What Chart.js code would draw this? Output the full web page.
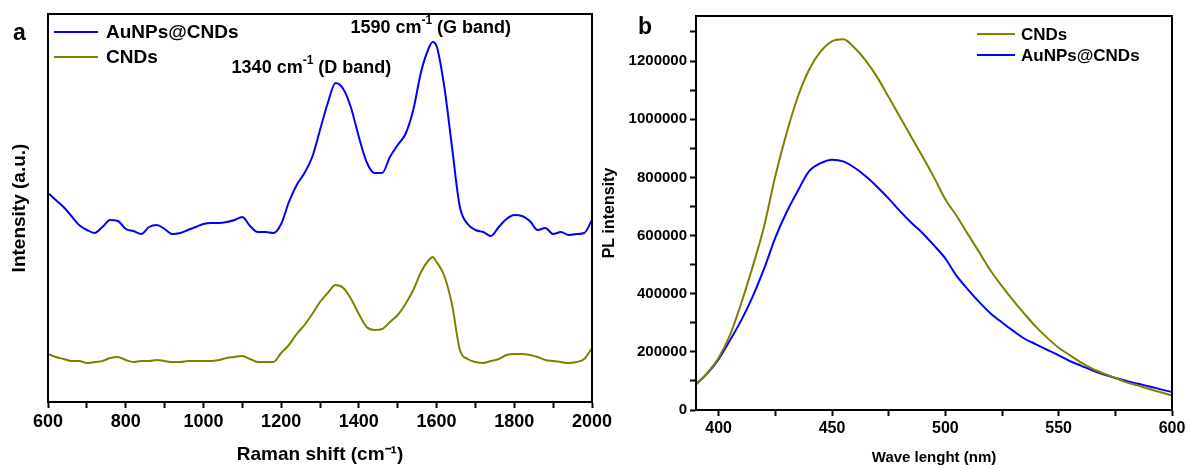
<!DOCTYPE html>
<html>
<head>
<meta charset="utf-8">
<script src="https://cdn.jsdelivr.net/npm/chart.js@4/dist/chart.umd.min.js"></script>
<style>
  html, body { margin: 0; padding: 0; background: #fff; }
  #wrap { position: relative; width: 1190px; height: 469px; overflow: hidden; }
  .panel { position: absolute; top: 0; height: 469px; }
  #pa { left: 0; width: 630px; }
  #pb { left: 600px; width: 590px; }
</style>
</head>
<body>
<div id="wrap">
  <div class="panel" id="pa"><canvas id="chartA" width="630" height="469"></canvas></div>
  <div class="panel" id="pb"><canvas id="chartB" width="590" height="469"></canvas></div>
</div>
<script>
// ---- panel a : Raman spectra (arbitrary units) ----
const ramanShift = [600,620,640,660,680,700,720,740,760,780,800,820,840,860,880,900,920,940,960,980,
  1000,1020,1040,1060,1080,1100,1120,1140,1160,1180,1200,1220,1240,1260,1280,1300,1320,1340,1360,1380,
  1400,1420,1440,1460,1480,1500,1520,1540,1560,1580,1590,1600,1620,1640,1660,1680,1700,1720,1740,1760,
  1780,1800,1820,1840,1860,1880,1900,1920,1940,1960,1980,2000];
const ramanAuNPs = [209,202,195,186,177,172,169,175,182,181,173,171,168,175,177,173,168,169,172,175,
  178,179,179,180,182,185,176,170,170,169,178,200,217,229,245,272,299,319,313,294,
  265,240,229,229,245,257,268,292,330,354,360,356,315,254,195,178,172,170,166,175,
  183,187,186,181,172,174,168,170,167,168,169,182];
const ramanCNDs = [48,45,43,41,41,39,40,41,44,45,42,40,41,41,42,41,40,40,41,41,
  41,41,42,44,45,46,43,40,40,40,49,57,68,77,88,100,109,117,114,103,
  88,75,72,73,80,87,98,112,130,142,145,140,126,97,52,43,40,39,41,43,
  47,48,48,47,45,42,41,40,39,40,43,54];
const ramanTicks = [600,700,800,900,1000,1100,1200,1300,1400,1500,1600,1700,1800,1900,2000];
const ramanTickLabels = [600,800,1000,1200,1400,1600,1800,2000];
const bandShifts = [1340, 1590];
const bandNames = ['D band', 'G band'];

// ---- panel b : PL spectra ----
const wavelength = [390,395,400,405,410,415,420,425,430,435,440,445,450,455,460,465,470,475,480,485,
  490,495,500,505,510,515,520,525,530,535,540,545,550,555,560,565,570,575,580,585,590,595,600];
const plCNDs = [88000,128000,180000,258000,368000,493000,630000,805000,953000,1079000,
  1172000,1233000,1268000,1275000,1245000,1201000,1144000,1076000,1008000,939000,
  871000,800000,725000,667000,604000,542000,479000,426000,376000,330000,
  286000,248000,214000,188000,163000,141000,125000,110000,95000,84000,72000,61000,50000];
const plAuNPs = [88000,126000,175000,240000,309000,390000,485000,593000,681000,755000,
  822000,849000,861000,855000,833000,803000,767000,727000,684000,644000,
  608000,566000,521000,461000,414000,371000,332000,301000,272000,245000,
  226000,207000,188000,168000,152000,136000,122000,110000,100000,90000,81000,71000,62000];
const plXTicks = [400,425,450,475,500,525,550,575,600];
const plXTickLabels = [400,450,500,550,600];
const plYTicks = [0,100000,200000,300000,400000,500000,600000,700000,800000,900000,
  1000000,1100000,1200000,1300000];
const plYTickLabels = [0,200000,400000,600000,800000,1000000,1200000];

const FONT = '"Liberation Sans", Arial, Helvetica, sans-serif';
const BLUE = '#0000ff';
const OLIVE = '#808000';

function pts(xs, ys) { return xs.map((x, i) => ({ x: x, y: ys[i] })); }
function bold(size) { return { family: FONT, size: size, weight: 'bold' }; }
function setTicks(list) { return s => { s.ticks = list.map(v => ({ value: v })); }; }

// box round the plot area
const frame = {
  id: 'frame',
  afterDatasetsDraw(chart) {
    const { ctx, chartArea: a } = chart;
    ctx.save();
    ctx.strokeStyle = '#000';
    ctx.lineWidth = 2;
    ctx.strokeRect(a.left, a.top, a.right - a.left, a.bottom - a.top);
    ctx.restore();
  }
};

// legend drawn inside the plot
const insetLegend = {
  id: 'insetLegend',
  afterDraw(chart, args, opts) {
    const ctx = chart.ctx;
    ctx.save();
    ctx.font = `bold ${opts.size}px ${FONT}`;
    ctx.textBaseline = 'middle';
    chart.data.datasets.forEach((ds, i) => {
      const y = opts.y + i * opts.rowGap;
      ctx.strokeStyle = ds.borderColor;
      ctx.lineWidth = 2;
      ctx.beginPath();
      ctx.moveTo(opts.x, y);
      ctx.lineTo(opts.x + opts.len, y);
      ctx.stroke();
      ctx.fillStyle = '#000';
      ctx.fillText(ds.label, opts.x + opts.len + opts.gap, y + 1);
    });
    ctx.restore();
  }
};

// panel letter
const panelTag = {
  id: 'panelTag',
  afterDraw(chart, args, opts) {
    const ctx = chart.ctx;
    ctx.save();
    ctx.font = `bold ${opts.size}px ${FONT}`;
    ctx.fillStyle = '#000';
    ctx.textBaseline = 'alphabetic';
    ctx.fillText(opts.text, opts.x, opts.y);
    ctx.restore();
  }
};

// "1340 cm-1 (D band)" style notes, with a raised -1
const bandNotes = {
  id: 'bandNotes',
  afterDraw(chart, args, opts) {
    const { ctx, scales: { x, y } } = chart;
    ctx.save();
    ctx.fillStyle = '#000';
    ctx.textBaseline = 'middle';
    bandShifts.forEach((pos, i) => {
      const cx = x.getPixelForValue(opts.anchors[i][0]);
      const cy = y.getPixelForValue(opts.anchors[i][1]);
      const base = pos + ' cm', sup = '-1', rest = ' (' + bandNames[i] + ')';
      ctx.font = `bold ${opts.size}px ${FONT}`;
      const wb = ctx.measureText(base).width, wr = ctx.measureText(rest).width;
      ctx.font = `bold ${opts.supSize}px ${FONT}`;
      const ws = ctx.measureText(sup).width;
      let px = cx - (wb + ws + wr) / 2;
      ctx.font = `bold ${opts.size}px ${FONT}`;
      ctx.fillText(base, px, cy);
      px += wb;
      ctx.font = `bold ${opts.supSize}px ${FONT}`;
      ctx.fillText(sup, px, cy - opts.size * 0.38);
      px += ws;
      ctx.font = `bold ${opts.size}px ${FONT}`;
      ctx.fillText(rest, px, cy);
    });
    ctx.restore();
  }
};

new Chart(document.getElementById('chartA'), {
  type: 'line',
  data: {
    datasets: [
      { label: 'AuNPs@CNDs', data: pts(ramanShift, ramanAuNPs), borderColor: BLUE, borderWidth: 2,
        pointRadius: 0, cubicInterpolationMode: 'monotone' },
      { label: 'CNDs', data: pts(ramanShift, ramanCNDs), borderColor: OLIVE, borderWidth: 2,
        pointRadius: 0, cubicInterpolationMode: 'monotone' }
    ]
  },
  options: {
    responsive: false,
    animation: false,
    layout: { padding: { top: 14, right: 38, left: 0, bottom: 0 } },
    plugins: {
      legend: { display: false },
      tooltip: { enabled: false },
      insetLegend: { x: 54, y: 32, rowGap: 25, len: 44, gap: 8, size: 19 },
      panelTag: { text: 'a', x: 13, y: 40, size: 23 },
      bandNotes: { anchors: [[1278, 334], [1585, 374]], size: 18, supSize: 12 }
    },
    scales: {
      x: {
        type: 'linear', min: 600, max: 2000,
        border: { display: true, color: '#000', width: 2 },
        grid: { drawOnChartArea: false, color: '#000', tickColor: '#000', tickLength: 6, tickWidth: 2 },
        afterBuildTicks: setTicks(ramanTicks),
        ticks: {
          autoSkip: false, maxRotation: 0, padding: 3, color: '#000', font: bold(18),
          callback: v => ramanTickLabels.includes(v) ? String(v) : ''
        },
        title: { display: true, text: 'Raman shift (cm⁻¹)', color: '#000', font: bold(19),
          padding: { top: 0, bottom: 3 } },
        afterFit: s => { s.height = 67; s.paddingLeft = 0; s.paddingRight = 0; }
      },
      y: {
        type: 'linear', min: 0, max: 388,
        border: { display: true, color: '#000', width: 2 },
        grid: { display: false },
        ticks: { display: false },
        title: { display: true, text: 'Intensity (a.u.)', color: '#000', font: bold(19),
          padding: { top: 8, bottom: 0 } },
        afterFit: s => { s.width = 48; s.paddingTop = 0; s.paddingBottom = 0; }
      }
    }
  },
  plugins: [frame, insetLegend, panelTag, bandNotes]
});

new Chart(document.getElementById('chartB'), {
  type: 'line',
  data: {
    datasets: [
      { label: 'CNDs', data: pts(wavelength, plCNDs), borderColor: OLIVE, borderWidth: 2,
        pointRadius: 0, cubicInterpolationMode: 'monotone' },
      { label: 'AuNPs@CNDs', data: pts(wavelength, plAuNPs), borderColor: BLUE, borderWidth: 2,
        pointRadius: 0, cubicInterpolationMode: 'monotone' }
    ]
  },
  options: {
    responsive: false,
    animation: false,
    layout: { padding: { top: 16, right: 18, left: 0, bottom: 0 } },
    plugins: {
      legend: { display: false },
      tooltip: { enabled: false },
      insetLegend: { x: 377, y: 34, rowGap: 21, len: 38, gap: 6, size: 17 },
      panelTag: { text: 'b', x: 38, y: 34, size: 23 }
    },
    scales: {
      x: {
        type: 'linear', min: 390, max: 600,
        border: { display: true, color: '#000', width: 2 },
        grid: { drawOnChartArea: false, color: '#000', tickColor: '#000', tickLength: 6, tickWidth: 2 },
        afterBuildTicks: setTicks(plXTicks),
        ticks: {
          autoSkip: false, maxRotation: 0, padding: 3, color: '#000', font: bold(16),
          callback: v => plXTickLabels.includes(v) ? String(v) : ''
        },
        title: { display: true, text: 'Wave lenght (nm)', color: '#000', font: bold(15),
          padding: { top: 0, bottom: 2 } },
        afterFit: s => { s.height = 59; s.paddingLeft = 0; s.paddingRight = 0; }
      },
      y: {
        type: 'linear', min: 0, max: 1355000,
        border: { display: true, color: '#000', width: 2 },
        grid: { drawOnChartArea: false, color: '#000', tickColor: '#000', tickLength: 6, tickWidth: 2 },
        afterBuildTicks: setTicks(plYTicks),
        ticks: {
          autoSkip: false, padding: 3, color: '#000', font: bold(15),
          callback: v => plYTickLabels.includes(v) ? String(v) : ''
        },
        title: { display: true, text: 'PL intensity', color: '#000', font: bold(16),
          padding: { top: 0, bottom: 0 } },
        afterFit: s => { s.width = 96; s.paddingTop = 0; s.paddingBottom = 0; }
      }
    }
  },
  plugins: [frame, insetLegend, panelTag]
});
</script>
</body>
</html>
